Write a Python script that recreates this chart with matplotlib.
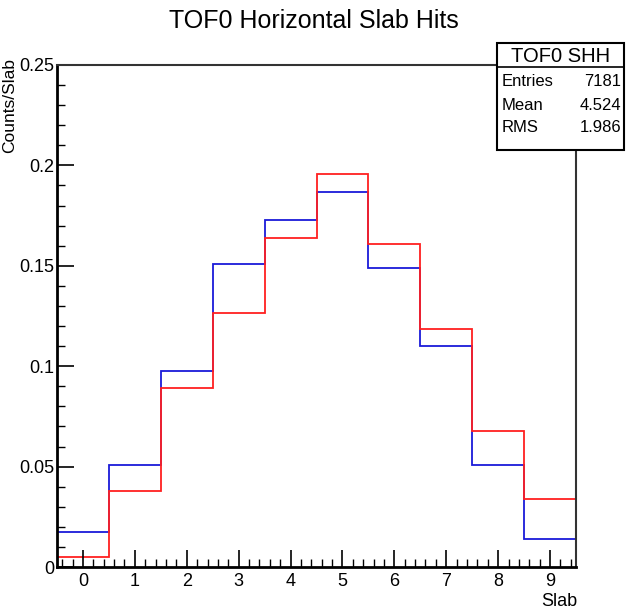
import numpy as np
import matplotlib.pyplot as plt
from matplotlib.patches import Rectangle
from matplotlib.ticker import MultipleLocator, FuncFormatter

plt.rcParams['font.family'] = ['Liberation Sans', 'DejaVu Sans']

slabs = np.arange(10)
blue_vals = [0.0174, 0.0508, 0.0976, 0.151, 0.173, 0.187, 0.149, 0.110, 0.0508, 0.0139]
red_vals = [0.005, 0.038, 0.089, 0.1265, 0.164, 0.1957, 0.161, 0.1185, 0.0677, 0.0339]

stats_title = "TOF0 SHH"
stats_rows = [("Entries", "7181"), ("Mean", "4.524"), ("RMS", "1.986")]

W, H = 626, 613
fig = plt.figure(figsize=(W / 100, H / 100), dpi=100)


def fx(px):
    return px / W


def fy(py):
    return 1 - py / H


ax = fig.add_axes([fx(57), fy(567), fx(576) - fx(57), fy(65) - fy(567)])

edges = np.append(slabs - 0.5, slabs[-1] + 0.5)
ax.stairs(blue_vals, edges, color='#1a1ad9', lw=1.3)
ax.stairs(red_vals, edges, color='#ff2020', lw=1.3)

ax.set_xlim(-0.5, 9.5)
ax.set_ylim(0, 0.25)

ax.xaxis.set_major_locator(MultipleLocator(1))
ax.xaxis.set_minor_locator(MultipleLocator(0.2))
ax.yaxis.set_major_locator(MultipleLocator(0.05))
ax.yaxis.set_minor_locator(MultipleLocator(0.01))
ax.yaxis.set_major_formatter(FuncFormatter(lambda v, p: '%g' % round(v, 3)))

ax.tick_params(which='both', direction='in', top=False, right=False,
               labelsize=13, colors='black')
ax.tick_params(which='major', length=12, width=1.2)
ax.tick_params(which='minor', length=6, width=1.0)
ax.tick_params(axis='y', which='major', pad=2)
ax.tick_params(axis='x', which='major', pad=4)

for side in ['left', 'bottom']:
    ax.spines[side].set_linewidth(2)
for side in ['top', 'right']:
    ax.spines[side].set_linewidth(1.5)
    ax.spines[side].set_color('#333333')

fig.text(fx(314), fy(21), "TOF0 Horizontal Slab Hits", ha='center', va='center',
         fontsize=18)
fig.text(fx(10), fy(58), "Counts/Slab", rotation=90, ha='center', va='top',
         fontsize=12.5)
fig.text(fx(577), fy(602), "Slab", ha='right', va='center', fontsize=13)

# stats box
bx0, bx1, by0, by1, ydiv = 497, 624, 43, 150, 67
fig.add_artist(Rectangle((fx(bx0), fy(by1)), fx(bx1) - fx(bx0), fy(by0) - fy(by1),
                         transform=fig.transFigure, facecolor='white',
                         edgecolor='black', lw=1.5, zorder=5))
fig.add_artist(plt.Line2D([fx(bx0), fx(bx1)], [fy(ydiv), fy(ydiv)],
                          transform=fig.transFigure, color='black', lw=1.2,
                          zorder=6))
fig.text(fx((bx0 + bx1) / 2), fy(56), stats_title, ha='center', va='center',
         fontsize=14.5, zorder=7)
for i, (name, val) in enumerate(stats_rows):
    yy = fy(82 + i * 23)
    fig.text(fx(502), yy, name, ha='left', va='center', fontsize=12, zorder=7)
    fig.text(fx(621), yy, val, ha='right', va='center', fontsize=12, zorder=7)

fig.savefig('out.png', dpi=100)
